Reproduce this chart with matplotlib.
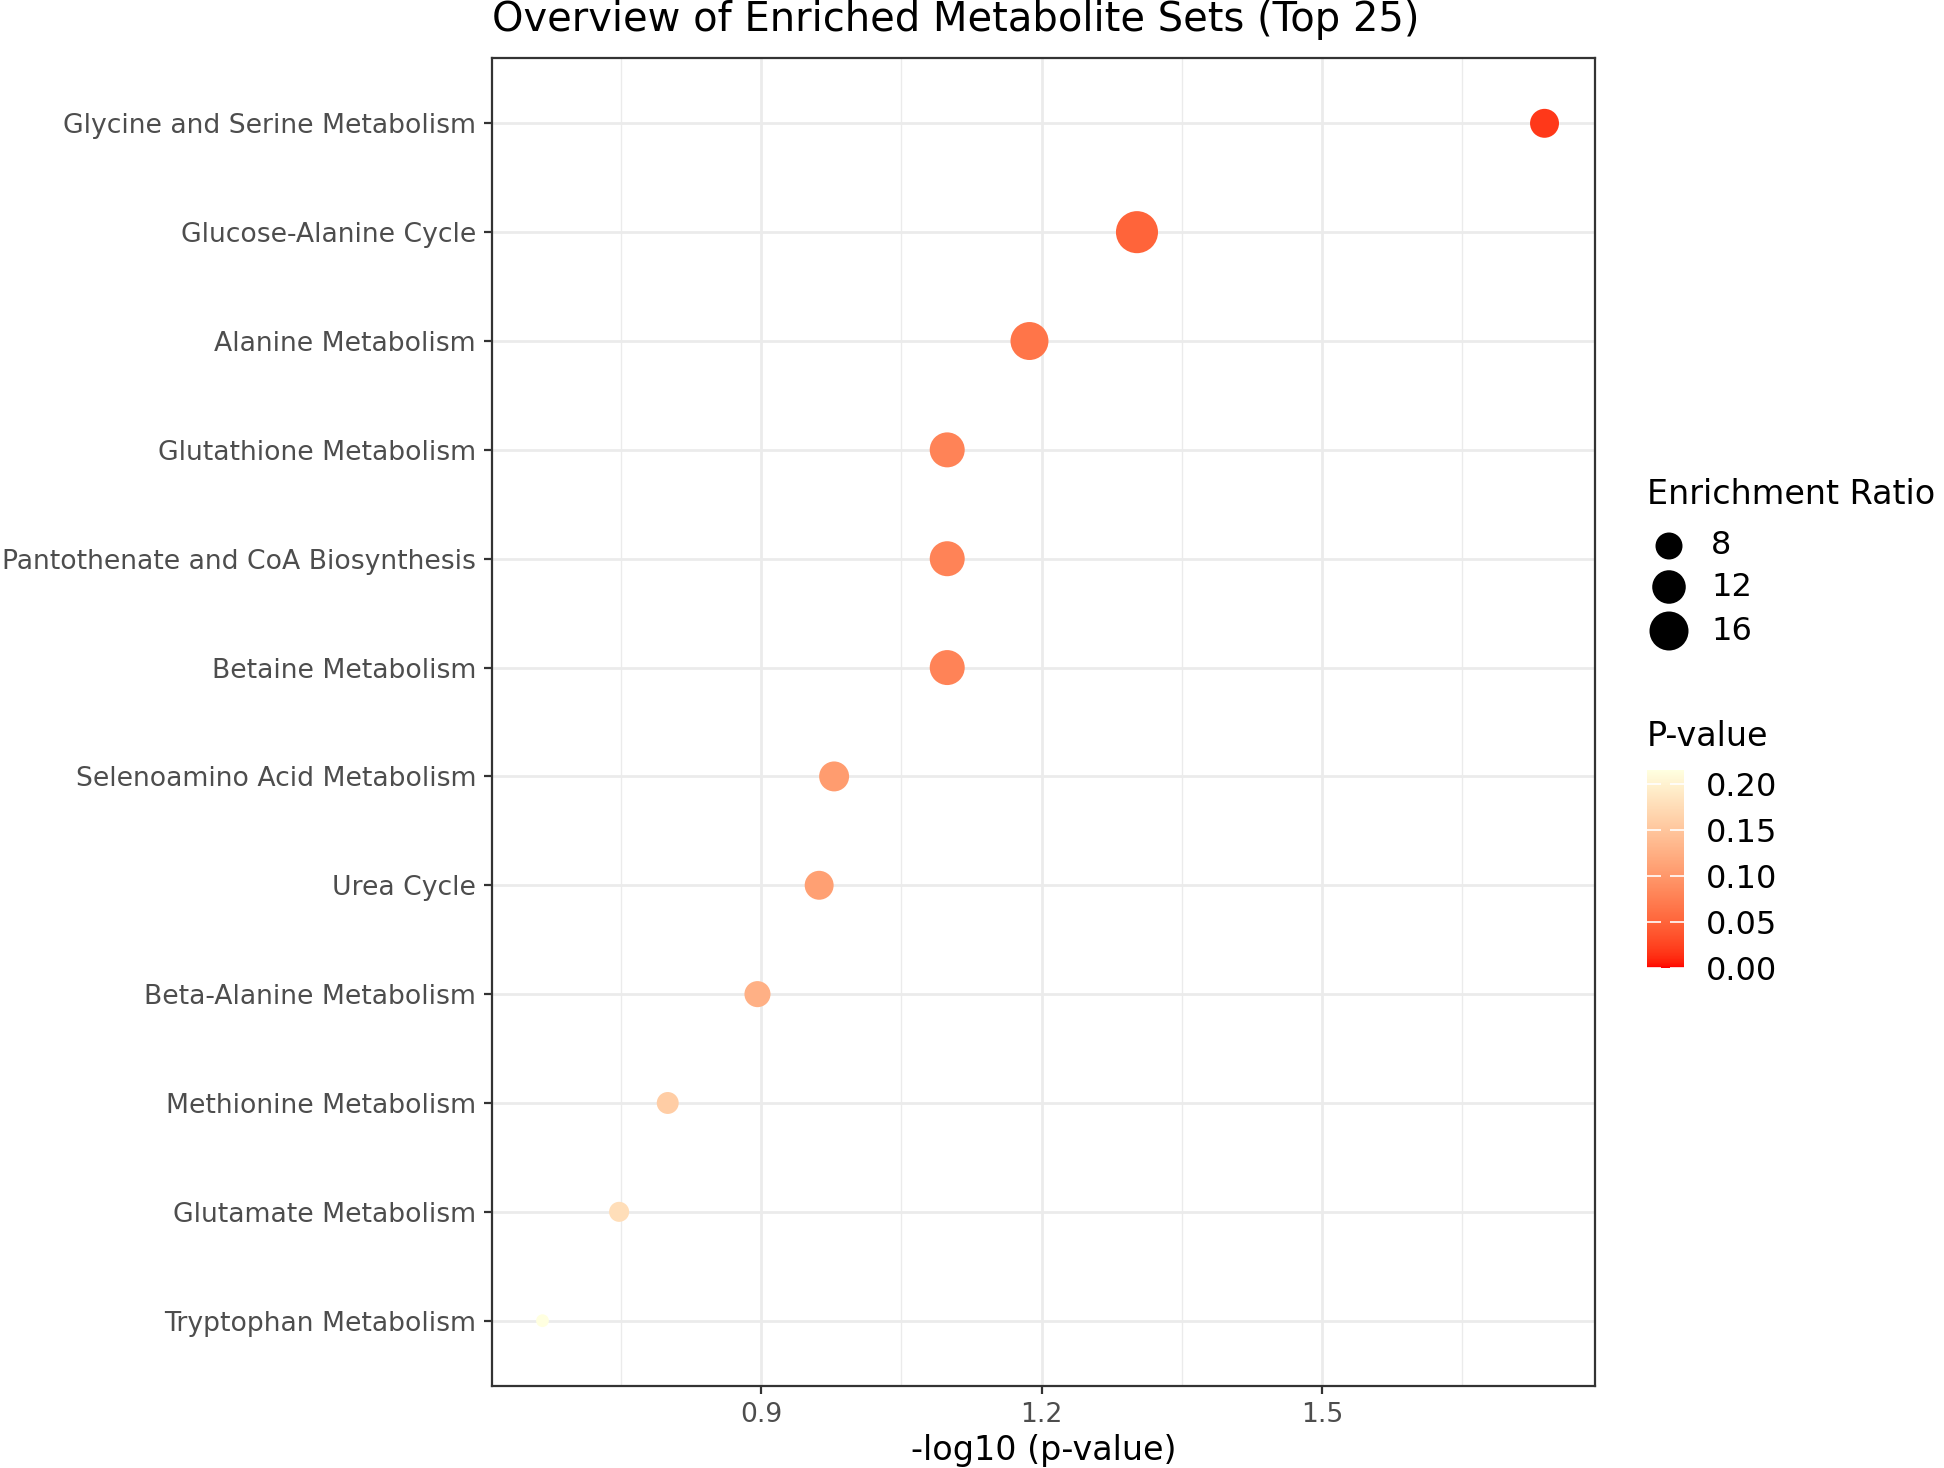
import numpy as np
import matplotlib
matplotlib.use("Agg")
import matplotlib.pyplot as plt
from matplotlib.colors import ListedColormap, Normalize
from matplotlib.cm import ScalarMappable

# metabolite sets, top to bottom as in the chart
sets = [
    "Glycine and Serine Metabolism",
    "Glucose-Alanine Cycle",
    "Alanine Metabolism",
    "Glutathione Metabolism",
    "Pantothenate and CoA Biosynthesis",
    "Betaine Metabolism",
    "Selenoamino Acid Metabolism",
    "Urea Cycle",
    "Beta-Alanine Metabolism",
    "Methionine Metabolism",
    "Glutamate Metabolism",
    "Tryptophan Metabolism",
]
neg_log_p = [1.738, 1.302, 1.187, 1.099, 1.099, 1.099, 0.978, 0.962, 0.896, 0.800, 0.748, 0.666]
enrich_ratio = [9.1, 18.5, 15.2, 13.0, 13.0, 13.0, 9.7, 9.1, 7.5, 5.5, 4.7, 2.3]
size_breaks = [8, 12, 16]
p_ticks = [0.0, 0.05, 0.10, 0.15, 0.20]

W, H, DPI = 1944, 1468, 200

# ---- red -> lightyellow gradient, interpolated in Lab like ggplot
M = np.array([[0.4124, 0.3576, 0.1805],
              [0.2126, 0.7152, 0.0722],
              [0.0193, 0.1192, 0.9505]])
WP = np.array([0.95047, 1.0, 1.08883])

def srgb_to_lab(c):
    c = np.asarray(c, float)
    lin = np.where(c <= 0.04045, c / 12.92, ((c + 0.055) / 1.055) ** 2.4)
    t = (M @ lin) / WP
    f = np.where(t > (6 / 29) ** 3, np.cbrt(t), t / (3 * (6 / 29) ** 2) + 4 / 29)
    return np.array([116 * f[1] - 16, 500 * (f[0] - f[1]), 200 * (f[1] - f[2])])

def lab_to_srgb(lab):
    L, a, b = lab
    fy = (L + 16) / 116
    f = np.array([fy + a / 500, fy, fy - b / 200])
    t = np.where(f > 6 / 29, f ** 3, 3 * (6 / 29) ** 2 * (f - 4 / 29))
    lin = np.clip(np.linalg.inv(M) @ (t * WP), 0, 1)
    c = np.where(lin <= 0.0031308, 12.92 * lin, 1.055 * lin ** (1 / 2.4) - 0.055)
    return np.clip(c, 0, 1)

lo = srgb_to_lab([1.0, 0.0, 0.0])
hi = srgb_to_lab([1.0, 1.0, 224 / 255])
cmap = ListedColormap([lab_to_srgb(lo + (hi - lo) * s) for s in np.linspace(0, 1, 256)])

p_vals = 10 ** (-np.array(neg_log_p))
norm = Normalize(0, p_vals.max())

def marker_area(r):
    # diameter^2 (px) grows linearly with ratio, convert to points^2
    d_px = np.sqrt(99 * np.asarray(r, float) - 63)
    return (d_px * 72 / DPI) ** 2

fig = plt.figure(figsize=(W / DPI, H / DPI), dpi=DPI)
ax = fig.add_axes([492 / W, 1 - 1386 / H, (1595 - 492) / W, (1386 - 58) / H])

y = np.arange(len(sets))[::-1] + 1
ax.scatter(neg_log_p, y, s=marker_area(enrich_ratio), c=p_vals, cmap=cmap, norm=norm,
           linewidths=0, zorder=3)

ax.set_xlim(0.612, 1.792)
ax.set_ylim(0.4, len(sets) + 0.6)
ax.set_yticks(y)
ax.set_yticklabels(sets)
ax.set_xticks([0.9, 1.2, 1.5])
ax.set_xticklabels(["0.9", "1.2", "1.5"])
ax.set_xticks([0.75, 1.05, 1.35, 1.65], minor=True)
ax.set_axisbelow(True)
ax.grid(which="major", color="#EBEBEB", lw=1.0)
ax.grid(which="minor", axis="x", color="#EBEBEB", lw=0.5)
ax.tick_params(which="major", length=2.75, width=0.8, color="#333333",
               labelcolor="#4D4D4D", labelsize=9.6, pad=3)
ax.tick_params(which="minor", length=0)
for sp in ax.spines.values():
    sp.set_color("#333333")
    sp.set_linewidth(0.8)
ax.set_xlabel("-log10 (p-value)", fontsize=12, labelpad=2)

fig.text(492 / W, 1 - 20 / H, "Overview of Enriched Metabolite Sets (Top 25)",
         ha="left", va="center", fontsize=14.4)

# ---- size legend
fig.text(1647 / W, 1 - 494 / H, "Enrichment Ratio", ha="left", va="center", fontsize=12)
lax = fig.add_axes([1640 / W, 1 - 655 / H, 120 / W, 130 / H])
lax.set_xlim(0, 120)
lax.set_ylim(130, 0)
lax.axis("off")
rows = [546 - 525, 587 - 525, 631 - 525]
lax.scatter([1669 - 1640] * 3, rows, s=marker_area(size_breaks), c="black", linewidths=0)
for yy, lab in zip(rows, size_breaks):
    lax.text(1711 - 1640, yy, str(lab), ha="left", va="center", fontsize=11.5)

# ---- colour legend
fig.text(1647 / W, 1 - 737 / H, "P-value", ha="left", va="center", fontsize=12)
cax = fig.add_axes([1647 / W, 1 - 968 / H, 37 / W, 198 / H])
cb = fig.colorbar(ScalarMappable(norm=norm, cmap=cmap), cax=cax)
cb.outline.set_visible(False)
cb.set_ticks(p_ticks)
cb.set_ticklabels([f"{t:.2f}" for t in p_ticks])
cax.tick_params(axis="y", direction="in", color="white", length=5, width=0.6,
                left=True, right=True, labelsize=11.5, pad=8)

fig.savefig("out.png", dpi=DPI)
